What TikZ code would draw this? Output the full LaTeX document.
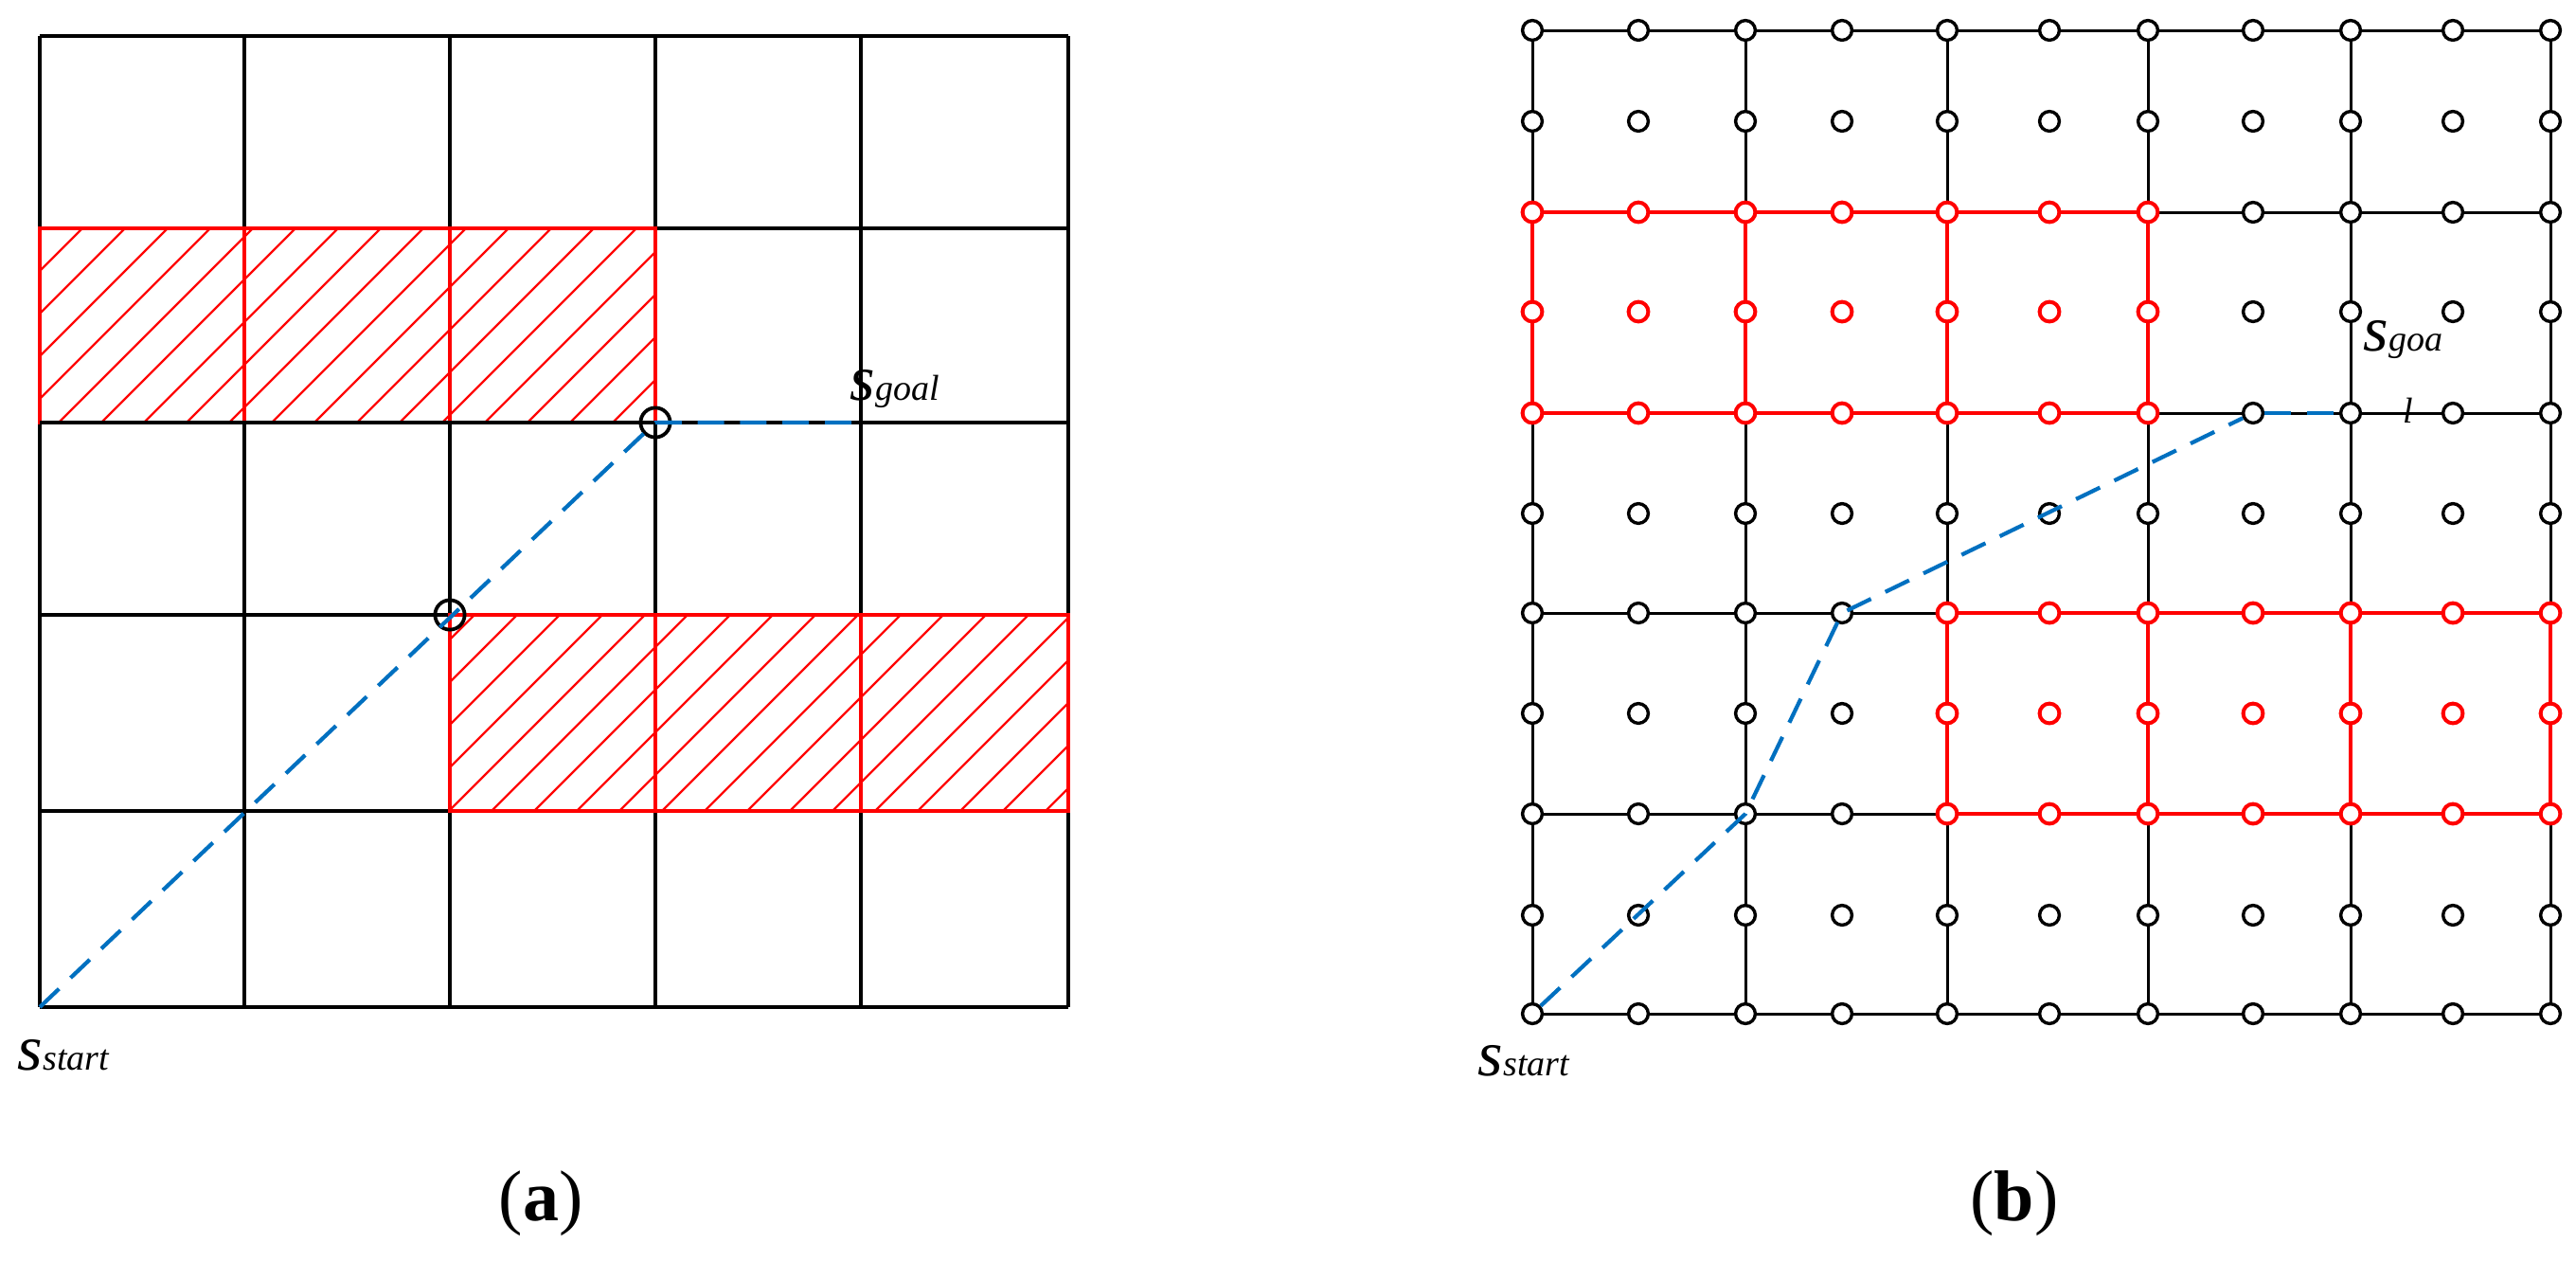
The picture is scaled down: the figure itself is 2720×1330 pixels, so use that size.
\documentclass[tikz,border=0pt]{standalone}
\usepackage{fontspec}
\setmainfont{Liberation Serif}
\newcommand\labbig{\fontsize{17}{19}\selectfont\itshape}
\newcommand\labsmall{\fontsize{9.5}{11}\selectfont\itshape}
\newcommand\capfont{\fontsize{19}{22}\selectfont}
\definecolor{pathblue}{RGB}{0,112,192}
\begin{document}
\begin{tikzpicture}[x=0.25pt,y=-0.25pt,
  gline/.style={black,line width=0.8pt},
  gthin/.style={black,line width=0.75pt},
  rline/.style={red,line width=0.9pt},
  hatchline/.style={red,line width=0.6pt},
  bpath/.style={pathblue,line width=1.05pt,dash pattern=on 7pt off 4.2pt},
  ring/.style={circle,draw=black,line width=0.95pt,minimum size=7.8pt,inner sep=0pt},
  bpt/.style={circle,draw=black,fill=white,line width=0.85pt,minimum size=5.2pt,inner sep=0pt},
  rpt/.style={circle,draw=red,fill=white,line width=1pt,minimum size=5.2pt,inner sep=0pt},
  lab/.style={anchor=base west,inner sep=0pt},
  captext/.style={inner sep=0pt,font=\capfont}]
\useasboundingbox (0,0) rectangle (2720,1330);

% ---------- (a) ----------
\foreach \x [count=\i from 0] in {42,258,475,692,909,1128}{
  \foreach \y [count=\j from 0] in {38,241,446,649,856,1063}{
    \coordinate (a-\i-\j) at (\x,\y);
  }
}
\begin{scope}
  \clip (a-0-1) rectangle (a-3-2);
  \foreach \k in {0,...,20} \draw[hatchline] (42,241+\k*45) -- ++(900,-900);
\end{scope}
\begin{scope}
  \clip (a-2-3) rectangle (a-5-4);
  \foreach \k in {0,...,21} \draw[hatchline] (475,630+\k*45) -- ++(900,-900);
\end{scope}
\foreach \j in {0,...,5} \draw[gline] (a-0-\j) -- (a-5-\j);
\foreach \i in {0,...,5} \draw[gline] (a-\i-0) -- (a-\i-5);
\draw[rline] (a-0-1) rectangle (a-3-2);
\draw[rline] (a-1-1) -- (a-1-2) (a-2-1) -- (a-2-2);
\draw[gline] (a-0-2) -- (a-3-2);
\draw[rline] (a-2-3) rectangle (a-5-4);
\draw[rline] (a-3-3) -- (a-3-4) (a-4-3) -- (a-4-4);
\node[ring] (wa) at (a-2-3) {};
\node[ring] (wb) at (a-3-2) {};
\draw[bpath] (a-0-5) -- (wb.center) -- (a-4-2);
\node[lab] (sgoalA) at (897,422) {\labbig s\labsmall goal};
\node[lab] (sstartA) at (18,1129) {\labbig s\labsmall start};
\node[captext] (capa) at (571,1270) {(\textbf{a})};

% ---------- (b) ----------
\foreach \x [count=\i from 0] in {1618,1730,1843,1945,2056,2164,2268,2379,2482,2590,2693}{
  \foreach \y [count=\j from 0] in {32,128,224,329,436,542,647,753,859,966,1070}{
    \coordinate (c-\i-\j) at (\x,\y);
  }
}
\foreach \j in {0,2,...,10} \draw[gthin] (c-0-\j) -- (c-10-\j);
\foreach \i in {0,2,...,10} \draw[gthin] (c-\i-0) -- (c-\i-10);
\foreach \j in {2,4} \draw[rline] (c-0-\j) -- (c-6-\j);
\foreach \i in {0,2,4,6} \draw[rline] (c-\i-2) -- (c-\i-4);
\foreach \j in {6,8} \draw[rline] (c-4-\j) -- (c-10-\j);
\foreach \i in {4,6,8,10} \draw[rline] (c-\i-6) -- (c-\i-8);
\foreach \i in {0,...,10}{
  \foreach \j in {0,...,10}{
    \pgfmathtruncatemacro\isred{((\j>=2)&&(\j<=4)&&(\i<=6))||((\j>=6)&&(\j<=8)&&(\i>=4))}
    \ifnum\isred=1
      \node[rpt] (n-\i-\j) at (c-\i-\j) {};
    \else
      \node[bpt] (n-\i-\j) at (c-\i-\j) {};
    \fi
  }
}
\draw[bpath] (n-0-10) -- (n-2-8.center) -- (n-3-6.center) -- (n-7-4);
\draw[bpath] (n-7-4) -- (n-8-4);
\node[lab] (sstartB) at (1560,1135) {\labbig s\labsmall start};
\node[lab] (sgoalB) at (2495,370) {\labbig s\labsmall goa};
\node[lab] (sgoalBl) at (2537,446) {\labsmall l};
\node[captext] (capb) at (2127,1270) {(\textbf{b})};
\end{tikzpicture}
\end{document}
